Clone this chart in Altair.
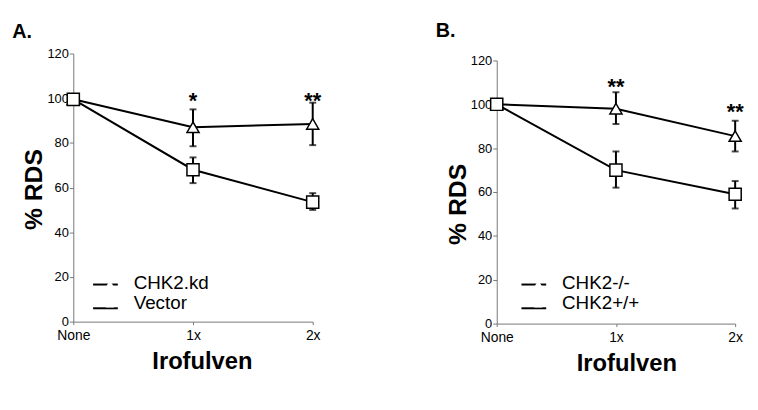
import altair as alt
import pandas as pd

doses = ["None", "1x", "2x"]

# Panel A
a_series = ["CHK2.kd", "Vector"]
a_kd_mean = [99.5, 87, 88.5]
a_kd_low = [99.5, 78.5, 79]
a_kd_high = [99.5, 95, 98]
a_vec_mean = [99.5, 68, 53.5]
a_vec_low = [99.5, 62, 50]
a_vec_high = [99.5, 73.5, 57.5]
a_star_dose = ["1x", "2x"]
a_star_y = [101, 101]
a_star_label = ["*", "**"]

# Panel B
b_series = ["CHK2-/-", "CHK2+/+"]
b_ko_mean = [100, 98, 85.5]
b_ko_low = [100, 91, 78.5]
b_ko_high = [100, 105.5, 92.5]
b_wt_mean = [100, 70, 59]
b_wt_low = [100, 62, 52.5]
b_wt_high = [100, 78.5, 65]
b_star_dose = ["1x", "2x"]
b_star_y = [110.3, 98.7]
b_star_label = ["**", "**"]

y_ticks = [0, 20, 40, 60, 80, 100, 120]

FONT = "Liberation Sans"
LINE_SUFFIX = " line"


def make_df(series, means, lows, highs):
    rows = []
    for s, m, lo, hi in zip(series, means, lows, highs):
        for d, mv, lv, hv in zip(doses, m, lo, hi):
            rows.append({"dose": d, "series": s, "line_key": s + LINE_SUFFIX,
                         "mean": mv, "low": lv, "high": hv})
    return pd.DataFrame(rows)


def panel(df, series, stars, title, title_offset, w, h, top_gap, lx, ly, ty, tx):
    line_keys = [s + LINE_SUFFIX for s in series]
    x = alt.X("dose:O", sort=doses, scale=alt.Scale(type="point", padding=0),
              axis=alt.Axis(title="Irofulven", labelAngle=0, labelFontSize=14, labelFont=FONT,
                            labelColor="black", tickSize=3, labelPadding=4, domainColor="#777",
                            tickColor="#777", titleFont=FONT, titleFontSize=24,
                            titleFontWeight="bold", titleColor="black", titlePadding=7,
                            titleX=tx))
    y_scale = alt.Scale(domain=[0, 120], nice=False, range=[h, top_gap])
    y_axis = alt.Axis(title="% RDS", values=y_ticks, labelFontSize=13, labelFont=FONT,
                      labelColor="black", tickSize=4, labelPadding=1, domainColor="#777",
                      tickColor="#777", grid=False, titleFont=FONT, titleFontSize=25,
                      titleFontWeight="bold", titleColor="black", titlePadding=0, titleY=ty)
    base = alt.Chart(df).encode(x=x)
    # line layer also supplies the legend's line stubs (stroke symbols, labels hidden)
    line = base.mark_line(strokeWidth=2).encode(
        y=alt.Y("mean:Q", scale=y_scale, axis=y_axis),
        stroke=alt.Stroke("line_key:N", sort=line_keys,
                          scale=alt.Scale(domain=line_keys, range=["black", "black"]),
                          legend=alt.Legend(title=None, orient="none", legendX=lx, legendY=ly - 3,
                                            symbolType="stroke", symbolSize=625,
                                            symbolStrokeWidth=2, labelFontSize=19,
                                            labelFont=FONT, labelOpacity=0, labelOffset=5,
                                            rowPadding=-7, padding=0)))
    err = base.mark_rule(color="black", strokeWidth=2).encode(
        y="low:Q", y2="high:Q", detail="series:N")
    cap_lo = base.mark_tick(color="black", thickness=2, size=7, orient="horizontal").encode(y="low:Q")
    cap_hi = base.mark_tick(color="black", thickness=2, size=7, orient="horizontal").encode(y="high:Q")
    pts = base.mark_point(filled=False, fill="white", stroke="black", strokeWidth=1.5,
                          size=150, opacity=1, fillOpacity=1).encode(
        y="mean:Q",
        shape=alt.Shape("series:N", sort=series,
                        scale=alt.Scale(domain=series, range=["triangle-up", "square"]),
                        legend=alt.Legend(title=None, orient="none", legendX=lx + 8.5, legendY=ly,
                                          labelFont=FONT, labelFontSize=19, labelColor="black",
                                          symbolSize=70, symbolFillColor="white",
                                          symbolStrokeColor="black", symbolStrokeWidth=1.5,
                                          symbolOpacity=1, labelOffset=14.5, rowPadding=-1,
                                          padding=0)))
    sdf = pd.DataFrame({"dose": stars[0], "y": stars[1], "label": stars[2]})
    txt = alt.Chart(sdf).mark_text(font=FONT, fontSize=22, fontWeight="bold", baseline="alphabetic",
                                   dy=12, color="black").encode(
        x=alt.X("dose:O", sort=doses, scale=alt.Scale(type="point", padding=0)),
        y=alt.Y("y:Q", scale=y_scale), text="label:N")
    return alt.layer(line, err, cap_lo, cap_hi, pts, txt).properties(
        width=w, height=h,
        title=alt.TitleParams(title, anchor="start", font=FONT, fontSize=20, fontWeight="bold",
                              color="black", offset=title_offset, dx=-10))


df_a = make_df(a_series, [a_kd_mean, a_vec_mean], [a_kd_low, a_vec_low], [a_kd_high, a_vec_high])
df_b = make_df(b_series, [b_ko_mean, b_wt_mean], [b_ko_low, b_wt_low], [b_ko_high, b_wt_high])

pa = panel(df_a, a_series, (a_star_dose, a_star_y, a_star_label), "A.", 6, 242, 271, 0, 19, 223, 137, 130)
pb = panel(df_b, b_series, (b_star_dose, b_star_y, b_star_label), "B.", 13, 241, 273, 7, 24, 223, 152, 131)

chart = alt.hconcat(pa, pb, spacing=114).resolve_scale(shape="independent", stroke="independent").properties(
    padding={"left": 4, "top": 11, "right": 5, "bottom": 5}
).configure_view(stroke=None)

chart.save("out.html", embed_options={"renderer": "svg", "actions": False})
